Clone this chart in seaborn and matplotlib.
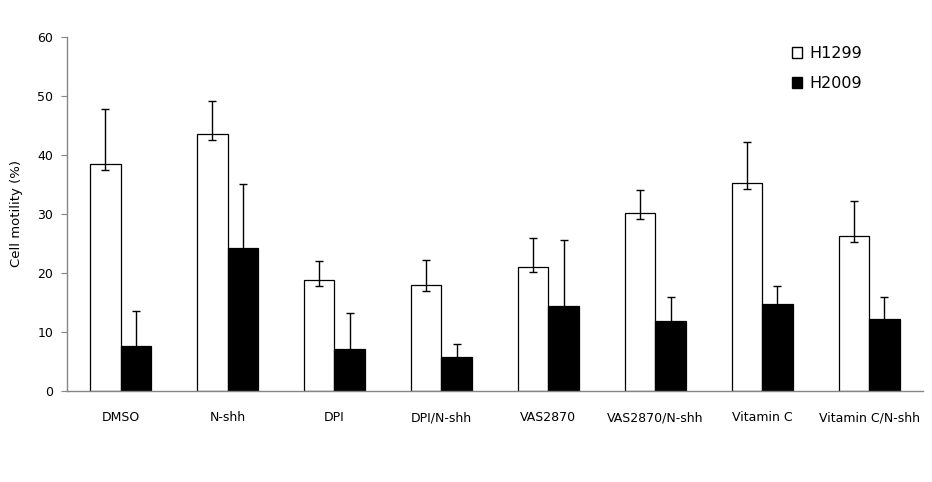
import pandas as pd
import seaborn as sns
import matplotlib.pyplot as plt
from matplotlib.patches import Patch

groups = ['DMSO', 'N-shh', 'DPI', 'DPI/N-shh', 'VAS2870',
          'VAS2870/N-shh', 'Vitamin C', 'Vitamin C/N-shh']
h1299 = [38.4, 43.5, 18.8, 17.9, 21.0, 30.1, 35.2, 26.2]
h1299_up = [9.4, 5.6, 3.2, 4.2, 4.9, 3.9, 7.0, 5.9]
h1299_down = [1.0, 1.0, 1.1, 1.0, 0.9, 1.0, 1.0, 0.9]
h2009 = [7.6, 24.2, 7.1, 5.8, 14.4, 11.9, 14.7, 12.2]
h2009_up = [6.0, 10.8, 6.1, 2.1, 11.1, 4.0, 3.0, 3.7]

sns.set_style('white')
plt.rcParams['font.family'] = ['DejaVu Sans']
plt.rcParams['text.color'] = 'black'
plt.rcParams['axes.labelcolor'] = 'black'

df = pd.DataFrame({
    'group': groups * 2,
    'line': ['H1299'] * len(groups) + ['H2009'] * len(groups),
    'value': h1299 + h2009,
})

fig = plt.figure(figsize=(9.32, 4.82), dpi=100)
ax = fig.add_axes([0.072, 0.189, 0.918, 0.735])

sns.barplot(data=df, x='group', y='value', hue='line', order=groups,
            hue_order=['H1299', 'H2009'], palette=['white', 'black'],
            width=0.57, errorbar=None, edgecolor='black', linewidth=0.9,
            legend=False, ax=ax)

# error bars on top of each bar
errs = [(h1299_down, h1299_up), (h2009_up, h2009_up)]
for cont, vals, (lo, hi) in zip(ax.containers, [h1299, h2009], errs):
    xs = [b.get_x() + b.get_width() / 2 for b in cont]
    ax.errorbar(xs, vals, yerr=[lo, hi], fmt='none', ecolor='black',
                elinewidth=1, capsize=3, capthick=1)

ax.set_ylim(0, 60)
ax.set_yticks(range(0, 61, 10))
ax.set_xlim(-0.5, len(groups) - 0.5)
ax.set_xlabel('')
ax.set_ylabel('Cell motility (%)', fontsize=9.5, labelpad=10)
ax.tick_params(axis='y', left=True, length=4, width=0.8, color='#868686',
               labelsize=9, pad=6, labelcolor='black')
ax.tick_params(axis='x', bottom=False, labelsize=9, pad=11,
               labelcolor='black')
for s in ['top', 'right']:
    ax.spines[s].set_visible(False)
for s in ['left', 'bottom']:
    ax.spines[s].set_color('#868686')
    ax.spines[s].set_linewidth(1)

handles = [Patch(facecolor='white', edgecolor='black', label='H1299'),
           Patch(facecolor='black', edgecolor='black', label='H2009')]
fig.legend(handles=handles, loc='upper left', bbox_to_anchor=(0.841, 0.921),
           frameon=False, fontsize=11.5, handlelength=0.65, handleheight=0.65,
           handletextpad=0.45, labelspacing=0.95, borderpad=0)

fig.savefig('out.png', dpi=100)
